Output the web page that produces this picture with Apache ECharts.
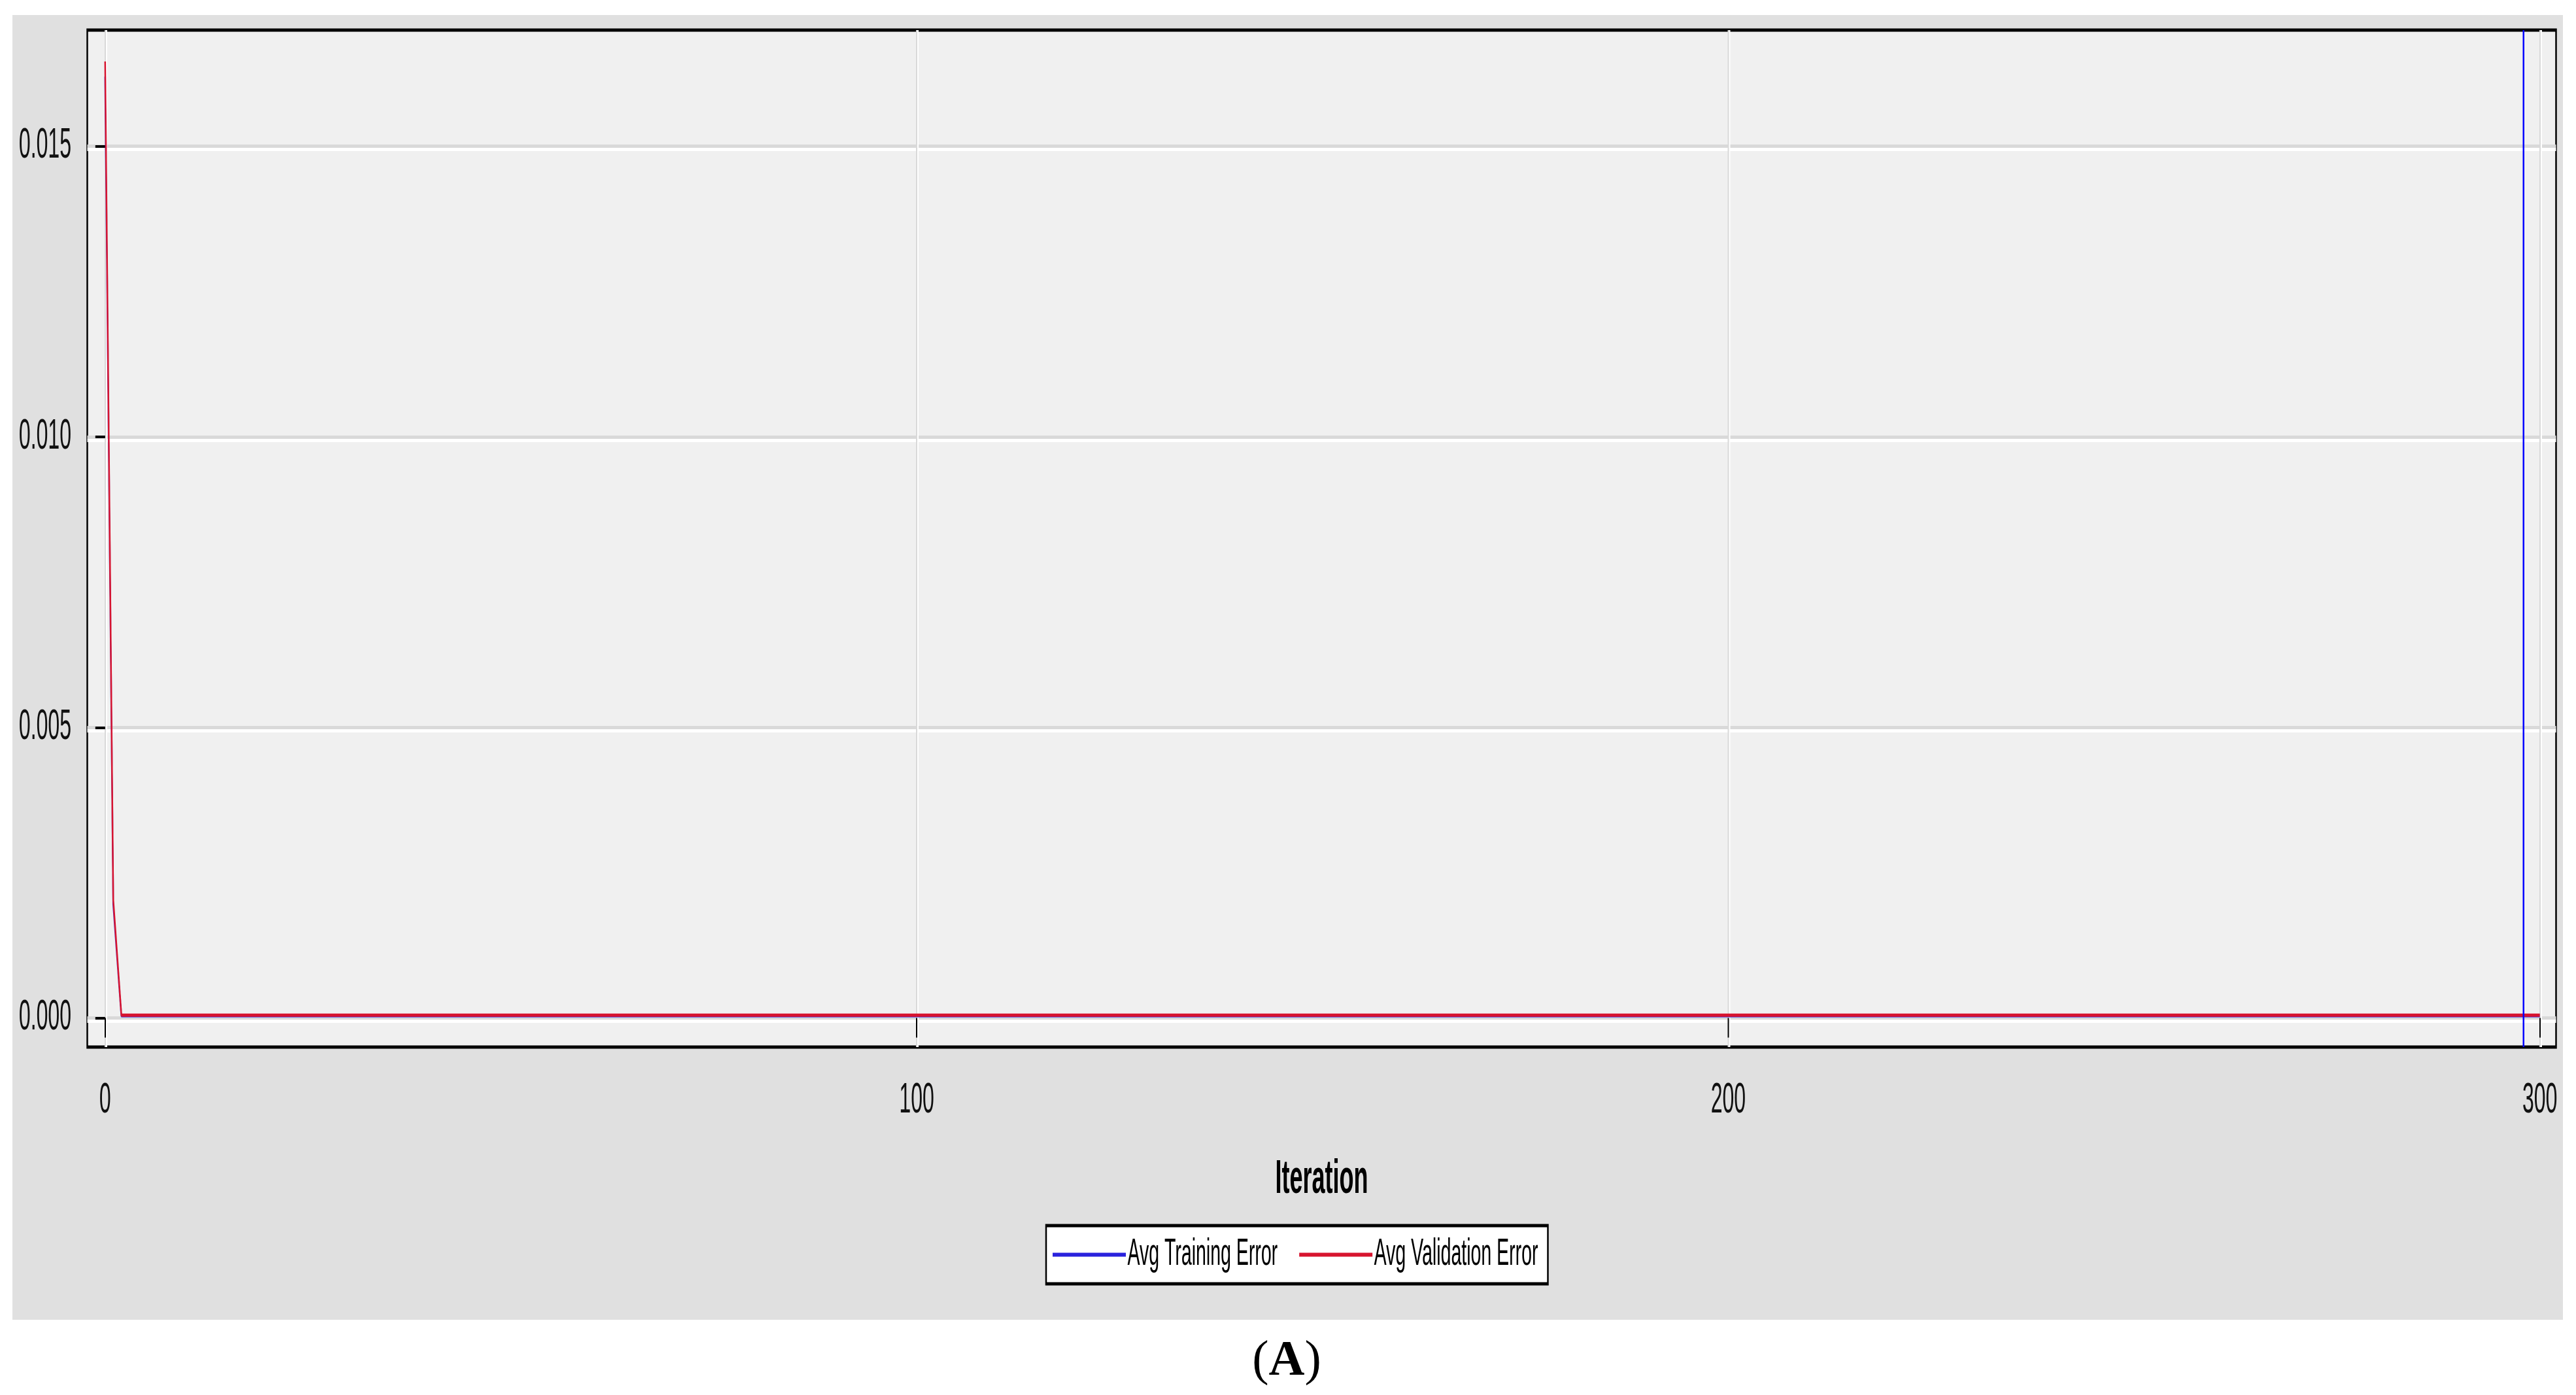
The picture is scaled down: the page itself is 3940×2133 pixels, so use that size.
<!DOCTYPE html>
<html>
<head>
<meta charset="utf-8">
<script src="https://cdn.jsdelivr.net/npm/echarts@6/dist/echarts.min.js"></script>
<style>
  html, body { margin: 0; padding: 0; background: #fff; overflow: hidden; width: 3940px; height: 2133px; }
  /* the chart is drawn twice as wide and squeezed back, like the narrow SAS output */
  #main { position: absolute; left: 19px; top: 23px; width: 7802px; height: 1995px;
          transform: scaleX(0.5); transform-origin: 0 0; }
  #caption { position: absolute; left: 0; top: 2038px; width: 3936px; text-align: center;
             font-family: "Liberation Serif", serif; font-size: 76px; line-height: 76px; color: #000; }
</style>
</head>
<body>
<div id="main"></div>
<div id="caption">(<b>A</b>)</div>
<script>
!function(){
    // data
    var iterations = [0, 1, 2, 300];
    var trainingError = [0.0162, 0.00196, 0.00004, 0.00004];
    var validationError = [0.01646, 0.00203, 0.00005, 0.00005];
    var selectedIteration = 298;
    var xTicks = [0, 100, 200, 300];
    var yTicks = [0, 0.005, 0.010, 0.015];

    function pairs(ys) {
        return iterations.map(function (x, i) { return [x, ys[i]]; });
    }

    var myChart = echarts.init(document.getElementById('main'));

    var labelStyle = {
        fontFamily: 'Liberation Sans',
        fontSize: 64,
        color: '#111'
    };

    var option = {
        animation: false,
        backgroundColor: '#e0e0e0',
        grid: {
            left: 229,
            right: 21,
            top: 23,
            bottom: 417,
            show: true,
            backgroundColor: '#f0f0f0',
            borderColor: '#000',
            borderWidth: 5
        },
        legend: {
            left: 3162,
            top: 1851,
            orient: 'horizontal',
            backgroundColor: '#fff',
            borderColor: '#000',
            borderWidth: 5,
            borderRadius: 0,
            padding: [16, 30, 16, 20],
            itemGap: 66,
            itemWidth: 224,
            itemHeight: 6,
            icon: 'rect',
            textStyle: {
                fontFamily: 'Liberation Sans',
                fontSize: 57,
                color: '#000'
            },
            data: ['Avg Training Error', 'Avg Validation Error']
        },
        xAxis: {
            type: 'value',
            min: -2.2,
            max: 302,
            name: 'Iteration',
            nameLocation: 'middle',
            nameGap: 167,
            nameTextStyle: {
                fontFamily: 'Liberation Sans',
                fontSize: 72,
                fontWeight: 'bold',
                color: '#000'
            },
            axisLine: { show: false },
            axisTick: {
                show: true,
                customValues: xTicks,
                length: 30,
                lineStyle: { color: '#000', width: 4 }
            },
            axisLabel: Object.assign({
                customValues: xTicks,
                margin: 50
            }, labelStyle),
            splitLine: {
                show: true,
                lineStyle: { color: '#d9d9d9', width: 4, shadowColor: '#ffffff', shadowBlur: 0, shadowOffsetX: 4 }
            }
        },
        yAxis: {
            type: 'value',
            min: -0.0005,
            max: 0.017,
            axisLine: { show: false },
            axisTick: {
                show: true,
                customValues: yTicks,
                length: 30,
                lineStyle: { color: '#000', width: 4 }
            },
            axisLabel: Object.assign({
                customValues: yTicks,
                margin: 49,
                formatter: function (v) { return v.toFixed(3); }
            }, labelStyle),
            splitLine: {
                show: true,
                lineStyle: { color: '#d9d9d9', width: 5, shadowColor: '#ffffff', shadowBlur: 0, shadowOffsetY: 5 }
            }
        },
        series: [
            {
                name: 'Avg Training Error',
                type: 'line',
                showSymbol: false,
                symbol: 'none',
                color: '#2a22dd',
                lineStyle: { width: 5, color: '#2a22dd' },
                data: pairs(trainingError),
                markLine: {
                    silent: true,
                    symbol: 'none',
                    label: { show: false },
                    lineStyle: { color: '#0000ff', width: 5, type: 'solid' },
                    data: [{ xAxis: selectedIteration }]
                }
            },
            {
                name: 'Avg Validation Error',
                type: 'line',
                showSymbol: false,
                symbol: 'none',
                color: '#d7142f',
                lineStyle: { width: 5, color: '#d7142f' },
                data: pairs(validationError)
            }
        ]
    };

    myChart.setOption(option);
}()
</script>
</body>
</html>
